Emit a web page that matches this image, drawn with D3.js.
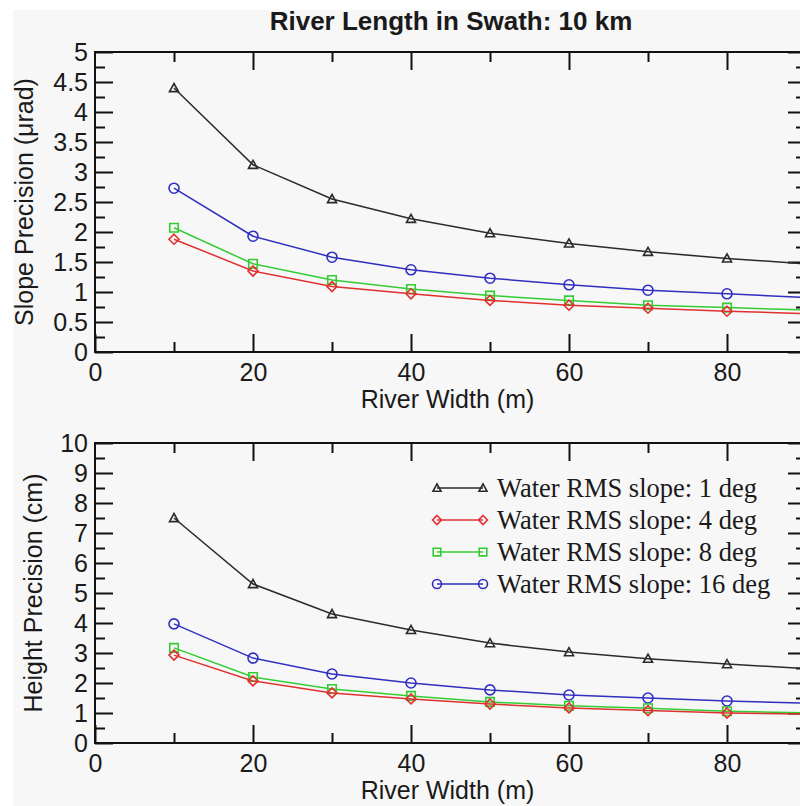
<!DOCTYPE html>
<html>
<head>
<meta charset="utf-8">
<script src="https://cdn.jsdelivr.net/npm/d3@7/dist/d3.min.js"></script>
<style>
  html, body { margin: 0; padding: 0; background: #ffffff; }
  svg { display: block; }
  text { font-family: "Liberation Sans", Arial, Helvetica, sans-serif; fill: #1a1a1a; }
</style>
</head>
<body>
<svg id="chart" width="800" height="806"></svg>
<script>
// ---- data ----
const title = "River Length in Swath: 10 km";
const xLabel = "River Width (m)";
const topYLabel = "Slope Precision (\u03bcrad)";
const bottomYLabel = "Height Precision (cm)";

const widths = [10, 20, 30, 40, 50, 60, 70, 80, 90];

const slopeRms1  = [4.40, 3.12, 2.55, 2.22, 1.98, 1.81, 1.67, 1.56, 1.47];
const slopeRms4  = [1.88, 1.35, 1.09, 0.97, 0.86, 0.78, 0.73, 0.68, 0.64];
const slopeRms8  = [2.07, 1.47, 1.20, 1.05, 0.94, 0.86, 0.78, 0.74, 0.70];
const slopeRms16 = [2.73, 1.93, 1.58, 1.37, 1.23, 1.12, 1.03, 0.97, 0.91];

const heightRms1  = [7.50, 5.30, 4.30, 3.77, 3.33, 3.03, 2.81, 2.63, 2.48];
const heightRms4  = [2.93, 2.07, 1.67, 1.47, 1.30, 1.17, 1.08, 1.00, 0.96];
const heightRms8  = [3.17, 2.20, 1.80, 1.57, 1.37, 1.24, 1.16, 1.06, 1.00];
const heightRms16 = [3.97, 2.83, 2.30, 2.00, 1.77, 1.60, 1.50, 1.40, 1.33];

const seriesNames = ["Water RMS slope: 1 deg", "Water RMS slope: 4 deg",
                     "Water RMS slope: 8 deg", "Water RMS slope: 16 deg"];

const xMajorTicks = [0, 20, 40, 60, 80];
const xMinorTicks = [10, 30, 50, 70, 90];
const topYMajorTicks = [0, 0.5, 1, 1.5, 2, 2.5, 3, 3.5, 4, 4.5, 5];
const topYMinorTicks = [0.25, 0.75, 1.25, 1.75, 2.25, 2.75, 3.25, 3.75, 4.25, 4.75];
const bottomYMajorTicks = [0, 1, 2, 3, 4, 5, 6, 7, 8, 9, 10];
const bottomYMinorTicks = [0.5, 1.5, 2.5, 3.5, 4.5, 5.5, 6.5, 7.5, 8.5, 9.5];

// ---- styles ----
const colors = ["#2b2b2b", "#e03030", "#33cc33", "#2f2fc0"];
const markers = ["triangle", "diamond", "square", "circle"];

const svg = d3.select("#chart");

// background
svg.append("rect").attr("x", 13).attr("y", 10).attr("width", 800).attr("height", 806)
  .attr("fill", "#f7f7f7");

const x = d3.scaleLinear().domain([0, 90]).range([95, 806]);
const yTop = d3.scaleLinear().domain([0, 5]).range([352, 52]);
const yBot = d3.scaleLinear().domain([0, 10]).range([743, 443]);

function markerPath(type, s) {
  const h = s / 2;
  if (type === "triangle") return `M0,${-h}L${h},${h * 0.8}L${-h},${h * 0.8}Z`;
  if (type === "diamond") return `M0,${-h}L${h},0L0,${h}L${-h},0Z`;
  if (type === "square") return `M${-h * 0.85},${-h * 0.85}H${h * 0.85}V${h * 0.85}H${-h * 0.85}Z`;
  return null;
}

function drawMarker(g, type, cx, cy, color, size) {
  if (type === "circle") {
    g.append("circle").attr("cx", cx).attr("cy", cy).attr("r", size / 2)
      .attr("fill", "none").attr("stroke", color).attr("stroke-width", 1.6);
  } else {
    g.append("path").attr("d", markerPath(type, size))
      .attr("transform", `translate(${cx},${cy})`)
      .attr("fill", "none").attr("stroke", color).attr("stroke-width", 1.6);
  }
}

function styleAxis(g) {
  g.select(".domain").remove();
  g.selectAll(".tick line").attr("stroke", "#111").attr("stroke-width", 2);
  g.selectAll(".tick text").style("font-size", "25px").attr("fill", "#1a1a1a");
}

function panel(y, yMajor, yMinor, yFmt, yLabel, seriesData, yLabelX, showLegend) {
  const [y0, y1] = y.range();
  const g = svg.append("g");
  const x0 = x.range()[0], x1 = x.range()[1];

  // bottom axis (labels)
  const gb = g.append("g").attr("transform", `translate(0,${y0})`)
    .call(d3.axisBottom(x).tickValues(xMajorTicks).tickSize(-18).tickPadding(30).tickFormat(d3.format("d")));
  styleAxis(gb);
  gb.selectAll(".tick text").attr("dy", "0").attr("y", 29);
  const gbm = g.append("g").attr("transform", `translate(0,${y0})`)
    .call(d3.axisBottom(x).tickValues(xMinorTicks).tickSize(-10).tickFormat(""));
  styleAxis(gbm);
  // top axis
  const gt = g.append("g").attr("transform", `translate(0,${y1})`)
    .call(d3.axisTop(x).tickValues(xMajorTicks.filter(d => d > 0)).tickSize(-18).tickFormat(""));
  styleAxis(gt);
  const gtm = g.append("g").attr("transform", `translate(0,${y1})`)
    .call(d3.axisTop(x).tickValues(xMinorTicks).tickSize(-10).tickFormat(""));
  styleAxis(gtm);
  // left axis
  const gl = g.append("g").attr("transform", `translate(${x0},0)`)
    .call(d3.axisLeft(y).tickValues(yMajor).tickSize(-18).tickPadding(7).tickFormat(yFmt));
  styleAxis(gl);
  gl.selectAll(".tick text").attr("x", -7);
  const glm = g.append("g").attr("transform", `translate(${x0},0)`)
    .call(d3.axisLeft(y).tickValues(yMinor).tickSize(-10).tickFormat(""));
  styleAxis(glm);
  // right axis
  const gr = g.append("g").attr("transform", `translate(${x1},0)`)
    .call(d3.axisRight(y).tickValues(yMajor).tickSize(-18).tickFormat(""));
  styleAxis(gr);
  const grm = g.append("g").attr("transform", `translate(${x1},0)`)
    .call(d3.axisRight(y).tickValues(yMinor).tickSize(-10).tickFormat(""));
  styleAxis(grm);

  // frame
  g.append("rect").attr("x", x0).attr("y", y1).attr("width", x1 - x0).attr("height", y0 - y1)
    .attr("fill", "none").attr("stroke", "#111").attr("stroke-width", 2);

  // series
  const line = d3.line().x((d, i) => x(widths[i])).y(d => y(d));
  const order = [3, 2, 1, 0];
  order.forEach(k => {
    const vals = seriesData[k];
    g.append("path").attr("d", line(vals)).attr("fill", "none")
      .attr("stroke", colors[k]).attr("stroke-width", 1.5);
    vals.forEach((v, i) => drawMarker(g, markers[k], x(widths[i]), y(v), colors[k], markers[k] === "triangle" ? 9 : 10));
  });

  // axis labels
  g.append("text").attr("x", (x0 + x1) / 2 - 3).attr("y", y0 + 56)
    .attr("text-anchor", "middle").style("font-size", "25px").text(xLabel);
  g.append("text").attr("transform", `translate(${yLabelX},${(y0 + y1) / 2}) rotate(-90)`)
    .attr("text-anchor", "middle").style("font-size", "25px").text(yLabel);

  if (showLegend) {
    const lg = g.append("g");
    seriesNames.forEach((name, k) => {
      const cy = 488 + k * 32;
      lg.append("line").attr("x1", 437).attr("x2", 483).attr("y1", cy).attr("y2", cy)
        .attr("stroke", colors[k]).attr("stroke-width", 1.5);
      drawMarker(lg, markers[k], 437, cy, colors[k], markers[k] === "triangle" ? 8 : 9);
      drawMarker(lg, markers[k], 483, cy, colors[k], markers[k] === "triangle" ? 8 : 9);
      lg.append("text").attr("x", 497).attr("y", cy + 9)
        .style("font-family", "'Liberation Serif', 'Times New Roman', serif")
        .style("font-size", "26.5px").attr("fill", "#222").text(name);
    });
  }
}

panel(yTop, topYMajorTicks, topYMinorTicks, d3.format("~g"), topYLabel,
      [slopeRms1, slopeRms4, slopeRms8, slopeRms16], 33, false);
panel(yBot, bottomYMajorTicks, bottomYMinorTicks, d3.format("d"), bottomYLabel,
      [heightRms1, heightRms4, heightRms8, heightRms16], 42, true);

// title
svg.append("text").attr("x", 451).attr("y", 30).attr("text-anchor", "middle")
  .style("font-size", "26px").style("font-weight", "bold").text(title);
</script>
</body>
</html>
